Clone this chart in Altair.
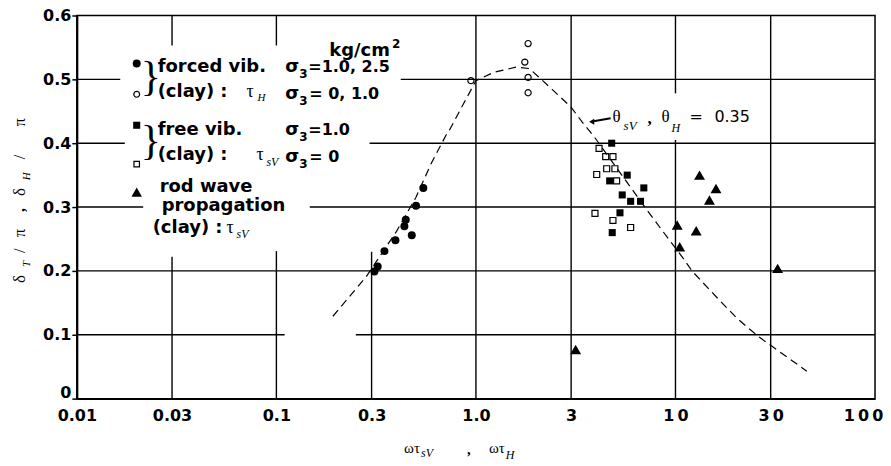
import altair as alt
import pandas as pd

# ---------------- data ----------------
# forced vibration (clay), sigma3 = 1.0, 2.5  (filled circles)
fv_filled_x = [0.310, 0.322, 0.348, 0.395, 0.477, 0.438, 0.445, 0.501, 0.545]
fv_filled_y = [0.199, 0.207, 0.231, 0.248, 0.256, 0.270, 0.280, 0.302, 0.330]
# forced vibration (clay), sigma3 = 0, 1.0  (open circles)
fv_open_x = [0.944, 1.826, 1.758, 1.826, 1.826]
fv_open_y = [0.498, 0.556, 0.527, 0.503, 0.479]
# free vibration (clay), sigma3 = 1.0  (filled squares)
free_filled_x = [4.79, 5.73, 4.68, 6.94, 5.41, 5.96, 6.68, 5.27, 4.82]
free_filled_y = [0.400, 0.350, 0.341, 0.330, 0.319, 0.309, 0.309, 0.291, 0.260]
# free vibration (clay), sigma3 = 0  (open squares)
free_open_x = [4.14, 4.47, 4.86, 4.52, 4.97, 4.03, 5.07, 3.95, 4.86, 5.96]
free_open_y = [0.392, 0.379, 0.379, 0.360, 0.360, 0.351, 0.341, 0.290, 0.279, 0.268]
# rod wave propagation (clay)  (filled triangles)
rod_x = [13.2, 15.96, 14.8, 10.2, 12.7, 10.5, 32.5, 3.16]
rod_y = [0.350, 0.329, 0.311, 0.272, 0.263, 0.238, 0.204, 0.077]
# theoretical curve  theta = 0.35 (dashed)
curve_x = [0.192, 0.282, 0.40, 0.50, 0.596, 0.708, 0.735, 1.0, 1.23, 1.585, 1.85,
           2.11, 2.99, 3.41, 3.98, 7.21, 9.44, 10.8, 12.1, 16.5, 20.3, 26.1, 45.5]
curve_y = [0.129, 0.191, 0.262, 0.315, 0.368, 0.4125, 0.420, 0.498, 0.511, 0.519, 0.517,
           0.501, 0.457, 0.433, 0.407, 0.295, 0.246, 0.222, 0.200, 0.155, 0.126, 0.097, 0.043]

# axis ticks
x_tick_values = [0.01, 0.03, 0.1, 0.3, 1, 3, 10, 30, 100]
x_tick_labels = ["0.01", "0.03", "0.1", "0.3", "1.0", "3", "1\u20090", "3\u20090", "1\u20090\u20090"]
y_tick_values = [0, 0.1, 0.2, 0.3, 0.4, 0.5, 0.6]
y_tick_labels = ["0", "0.1", "0.2", "0.3", "0.4", "0.5", "0.6"]

# broken grid lines of the original figure (data coordinates)
h_grid_y = [0.5, 0.5, 0.4, 0.4, 0.3, 0.3, 0.2, 0.1, 0.1]
h_grid_x1 = [0.01, 0.42, 0.01, 0.293, 0.01, 0.147, 0.01, 0.01, 0.25]
h_grid_x2 = [0.0165, 100, 0.0174, 100, 0.0215, 100, 100, 0.11, 100]
v_grid_x = [0.03, 0.03, 0.1, 0.1, 0.3, 1, 3, 10, 10, 30]
v_grid_y1 = [0, 0.553, 0, 0.553, 0, 0, 0, 0, 0.478, 0]
v_grid_y2 = [0.222, 0.6, 0.231, 0.6, 0.23, 0.6, 0.6, 0.405, 0.6, 0.6]

# ---------------- chart ----------------
OX, OY = 77, 15  # page position of plot origin

xscale = alt.Scale(type="log", domain=[0.01, 100], nice=False)
yscale = alt.Scale(domain=[0, 0.6], nice=False)

def label_expr(values, labels, tol):
    expr = "''"
    for v, l in reversed(list(zip(values, labels))):
        expr = f"abs(datum.value - {v}) < {tol * max(abs(v), 1e-9) if tol < 1 else tol} ? '{l}' : " + expr
    return expr

x_expr = label_expr(x_tick_values, x_tick_labels, 0.05)
y_expr = label_expr(y_tick_values, y_tick_labels, 0.01)
y_expr = y_expr.replace("< 1e-11", "< 0.01")

xaxis = alt.Axis(values=x_tick_values, labelExpr=x_expr,
                 grid=False, ticks=False, domain=True, domainColor="black", domainWidth=2,
                 labelFont="DejaVu Sans", labelFontWeight="bold", labelFontSize=16,
                 labelColor="black", labelPadding=9, labelFlush=False, title=None,
                 labelOffset={"condition": {"test": "datum.value >= 100", "value": -12}, "value": 0})
yaxis = alt.Axis(values=y_tick_values, labelExpr=y_expr,
                 grid=False, ticks=True, tickSize=5, tickColor="black", tickWidth=1.5,
                 domain=True, domainColor="black", domainWidth=2,
                 labelFont="DejaVu Sans", labelFontWeight="bold", labelFontSize=16,
                 labelColor="black", labelPadding=1, title=None,
                 labelOffset={"condition": {"test": "datum.value < 0.05", "value": -6}, "value": 0})

grid_df = pd.DataFrame({
    "gx": h_grid_x1 + v_grid_x,
    "gx2": h_grid_x2 + v_grid_x,
    "gy": h_grid_y + v_grid_y1,
    "gy2": h_grid_y + v_grid_y2,
})
grid = alt.Chart(grid_df).mark_rule(color="black", strokeWidth=1.4).encode(
    x=alt.X("gx:Q", scale=xscale, axis=xaxis),
    x2="gx2:Q",
    y=alt.Y("gy:Q", scale=yscale, axis=yaxis),
    y2="gy2:Q",
)

curve = alt.Chart(pd.DataFrame({"x": curve_x, "y": curve_y})).mark_line(
    color="black", strokeWidth=1.2, strokeDash=[8, 5]).encode(
    x=alt.X("x:Q", scale=xscale), y=alt.Y("y:Q", scale=yscale))

def pts(xs, ys, shape, filled, size):
    df = pd.DataFrame({"x": xs, "y": ys})
    if filled:
        m = alt.Chart(df).mark_point(shape=shape, filled=True, color="black", size=size, opacity=1)
    else:
        m = alt.Chart(df).mark_point(shape=shape, filled=False, color="black", size=size,
                                     strokeWidth=1.2, opacity=1)
    return m.encode(x=alt.X("x:Q", scale=xscale), y=alt.Y("y:Q", scale=yscale))

points = [
    pts(fv_filled_x, fv_filled_y, "circle", True, 64),
    pts(fv_open_x, fv_open_y, "circle", False, 38),
    pts(free_filled_x, free_filled_y, "square", True, 50),
    pts(free_open_x, free_open_y, "square", False, 36),
    pts(rod_x, rod_y, "triangle-up", True, 120),
]

one = pd.DataFrame({"k": [0]})
SANS = "DejaVu Sans"
SERIF = "Liberation Serif"

def T(px, py, text, size, font=SANS, weight="bold", style="normal", angle=0, align="left"):
    return alt.Chart(one).mark_text(
        x=px - OX, y=py - OY, text=text, fontSize=size, font=font, fontWeight=weight,
        fontStyle=style, angle=angle, align=align, baseline="alphabetic", color="black")

def M(px, py, shape, filled, size):
    if filled:
        mk = alt.Chart(one).mark_point(shape=shape, filled=True, color="black", size=size, opacity=1)
    else:
        mk = alt.Chart(one).mark_point(shape=shape, filled=False, color="black", size=size,
                                       strokeWidth=1.2, opacity=1)
    return mk.encode(x=alt.value(px - OX), y=alt.value(py - OY))

ann = [
    # legend
    T(330, 56, "kg/cm", 18), T(393, 48, "2", 12),
    M(137, 63, "circle", True, 64), M(137, 94, "circle", False, 34),
    T(141, 90, "}", 42, font=SERIF, weight="normal"),
    T(158, 72, "forced  vib.", 18),
    T(286, 72, "σ", 18), T(300, 78, "3", 12), T(309, 72, "=1.0, 2.5", 16),
    T(158, 97, "(clay)  :", 18), T(247, 97, "τ", 18, font=SERIF, weight="normal"),
    T(258, 101, "H", 11, font=SERIF, weight="normal", style="italic"),
    T(286, 99, "σ", 18), T(300, 105, "3", 12), T(310, 99, "= 0, 1.0", 16),
    M(137, 125, "square", True, 50), M(137, 164, "square", False, 30),
    T(141, 154, "}", 42, font=SERIF, weight="normal"),
    T(158, 135, "free  vib.", 18),
    T(286, 135, "σ", 18), T(300, 141, "3", 12), T(309, 135, "=1.0", 16),
    T(158, 160, "(clay)  :", 18), T(257, 160, "τ", 18, font=SERIF, weight="normal"),
    T(267, 166, "sV", 12, font=SERIF, weight="normal", style="italic"),
    T(286, 162, "σ", 18), T(300, 168, "3", 12), T(310, 162, "= 0", 16),
    M(137, 192, "triangle-up", True, 110),
    T(160, 192, "rod  wave", 18),
    T(162, 211, "propagation", 18),
    T(153, 233, "(clay) :", 18), T(227, 233, "τ", 18, font=SERIF, weight="normal"),
    T(237, 238, "sV", 12, font=SERIF, weight="normal", style="italic"),
    # curve annotation
    alt.Chart(one).mark_rule(color="black", strokeWidth=2).encode(
        x=alt.value(612 - OX), y=alt.value(118 - OY), x2=alt.value(595 - OX), y2=alt.value(121 - OY)),
    M(593, 121.5, "triangle-left", True, 35),
    T(614, 122, "θ", 17, font=SERIF, weight="normal"),
    T(625, 130, "sV", 13, font=SERIF, weight="normal", style="italic"),
    T(649, 124, ",", 17, font=SERIF, weight="bold"),
    T(663, 122, "θ", 17, font=SERIF, weight="normal"),
    T(673, 132, "H", 12, font=SERIF, weight="normal", style="italic"),
    T(691, 122, "=", 16, font=SANS, weight="normal"),
    T(716, 122, "0.35", 16, font=SANS, weight="normal"),
    # y-axis title (rotated)
    T(25, 283, "δ", 17, font=SERIF, weight="normal", angle=270),
    T(30, 267, "T", 11, font=SERIF, weight="normal", style="italic", angle=270),
    T(25, 253, "/", 16, font=SERIF, weight="normal", angle=270),
    T(25, 237, "π", 16, font=SERIF, weight="normal", angle=270),
    T(25, 212, ",", 16, font=SERIF, weight="bold", angle=270),
    T(25, 196, "δ", 17, font=SERIF, weight="normal", angle=270),
    T(30, 180, "H", 11, font=SERIF, weight="normal", style="italic", angle=270),
    T(25, 159, "/", 16, font=SERIF, weight="normal", angle=270),
    T(25, 126, "π", 16, font=SERIF, weight="normal", angle=270),
    # x-axis title
    T(405, 453, "ωτ", 15, font=SERIF, weight="normal"),
    T(422, 458, "sV", 12, font=SERIF, weight="normal", style="italic"),
    T(468, 455, ",", 15, font=SERIF, weight="bold"),
    T(490, 453, "ωτ", 15, font=SERIF, weight="normal"),
    T(507, 460, "H", 12, font=SERIF, weight="normal", style="italic"),
]

chart = alt.layer(grid, curve, *points, *ann).properties(
    width=800, height=384,
    padding={"left": 69, "top": 7, "right": 8, "bottom": 64},
    autosize=alt.AutoSizeParams(type="none"),
    background="white",
).configure_view(stroke="black", strokeWidth=1.5)

chart.save("out.html", embed_options={"renderer": "svg", "actions": False})
